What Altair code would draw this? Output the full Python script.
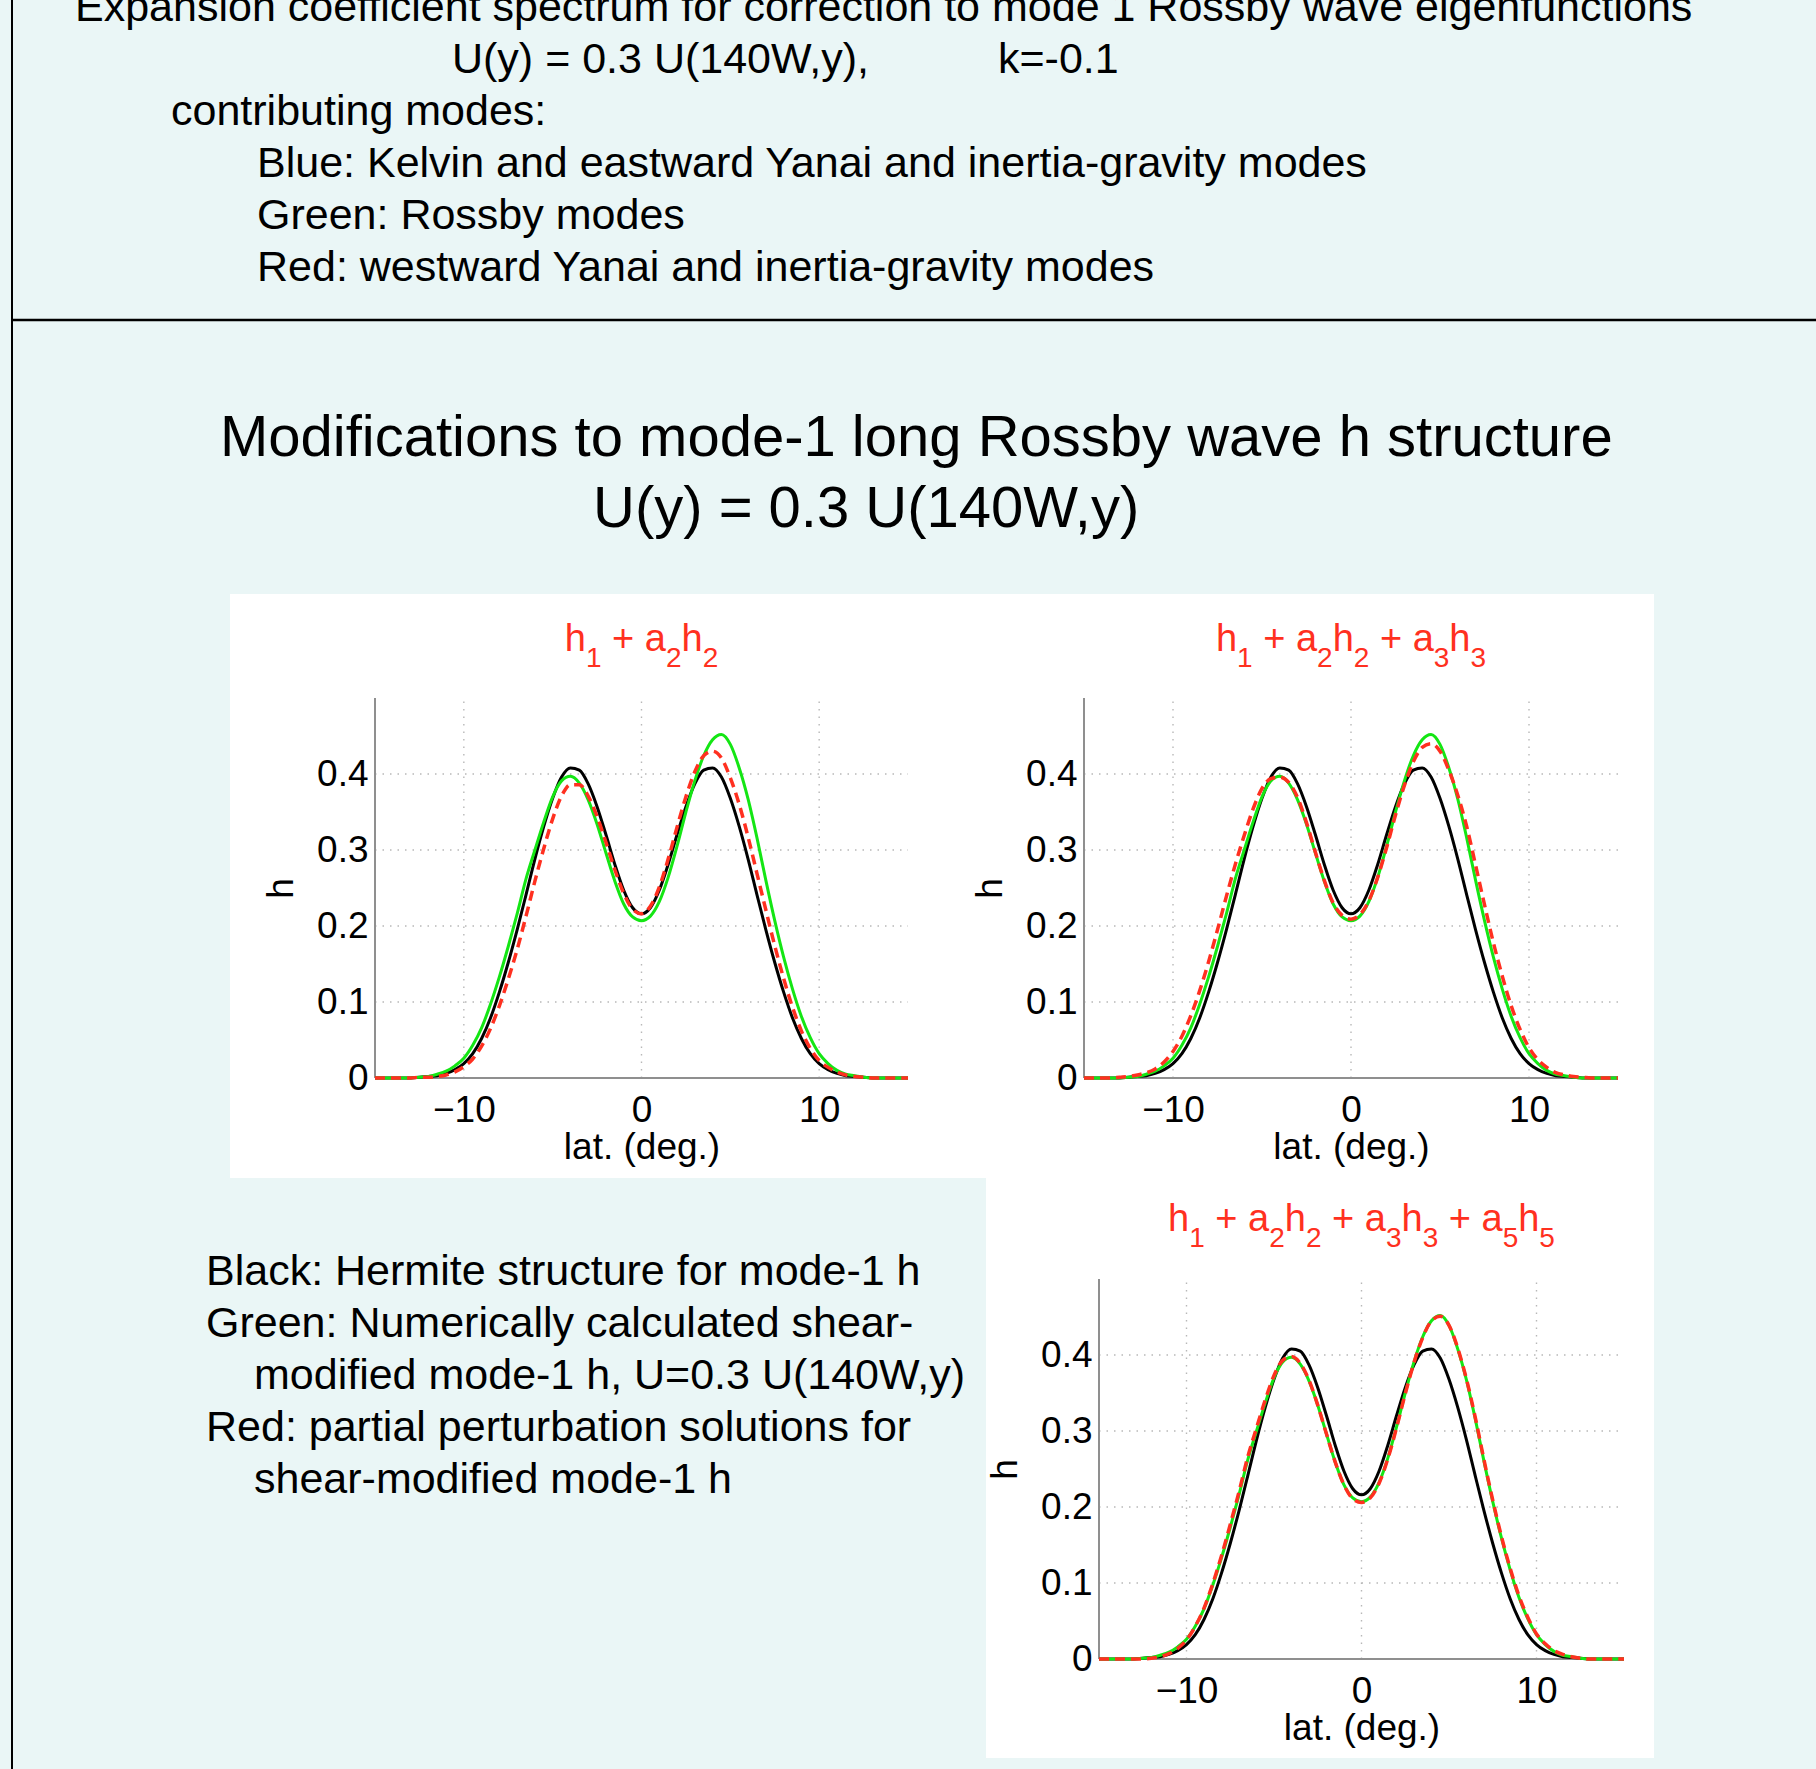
import altair as alt
import pandas as pd

# ---------------- data ----------------
LAT = [i / 2 for i in range(-30, 31)]  # latitude sample grid, -15 .. 15 deg

BLACK = [0, 0, 0, 0, 0, 0.001, 0.002, 0.003, 0.006, 0.011, 0.019, 0.032, 0.052, 0.079, 0.113,
         0.152, 0.195, 0.241, 0.288, 0.331, 0.368, 0.396, 0.408, 0.405, 0.387, 0.357, 0.320,
         0.281, 0.247, 0.224,
         0.216,
         0.224, 0.247, 0.281, 0.320, 0.357, 0.387, 0.405, 0.408, 0.396, 0.368, 0.331, 0.288,
         0.241, 0.195, 0.152, 0.113, 0.079, 0.052, 0.032, 0.019, 0.011, 0.006, 0.003, 0.002,
         0.001, 0, 0, 0, 0, 0]

GREEN = [0, 0, 0, 0, 0, 0.001, 0.002, 0.005, 0.009, 0.016, 0.026, 0.043, 0.066, 0.097, 0.133,
         0.173, 0.216, 0.262, 0.300, 0.337, 0.370, 0.391, 0.397, 0.388, 0.366, 0.334, 0.296,
         0.259, 0.229, 0.212,
         0.207,
         0.213, 0.232, 0.264, 0.305, 0.350, 0.391, 0.424, 0.445, 0.452, 0.439, 0.408, 0.367,
         0.316, 0.260, 0.207, 0.159, 0.117, 0.081, 0.053, 0.032, 0.019, 0.010, 0.005, 0.003,
         0.001, 0, 0, 0, 0, 0]

RED_1 = [0, 0, 0, 0, 0, 0.001, 0.001, 0.002, 0.004, 0.008, 0.015, 0.025, 0.042, 0.065, 0.095,
         0.130, 0.169, 0.213, 0.259, 0.302, 0.341, 0.371, 0.386, 0.386, 0.371, 0.344, 0.310,
         0.274, 0.243, 0.222,
         0.216,
         0.226, 0.251, 0.288, 0.330, 0.370, 0.403, 0.424, 0.430, 0.421, 0.395, 0.360, 0.317,
         0.269, 0.221, 0.174, 0.131, 0.093, 0.062, 0.039, 0.023, 0.014, 0.008, 0.004, 0.002,
         0.001, 0, 0, 0, 0, 0]

RED_2 = [0, 0, 0, 0, 0.001, 0.002, 0.004, 0.007, 0.012, 0.021, 0.035, 0.055, 0.082, 0.115, 0.153,
         0.195, 0.239, 0.281, 0.319, 0.354, 0.381, 0.394, 0.396, 0.389, 0.369, 0.336, 0.297,
         0.260, 0.230, 0.214,
         0.209,
         0.215, 0.233, 0.264, 0.303, 0.346, 0.385, 0.416, 0.435, 0.440, 0.430, 0.405, 0.372,
         0.331, 0.280, 0.228, 0.178, 0.134, 0.095, 0.064, 0.040, 0.024, 0.014, 0.007, 0.004,
         0.002, 0.001, 0, 0, 0, 0]

RED_3 = [0, 0, 0, 0, 0, 0, 0.001, 0.003, 0.007, 0.014, 0.025, 0.043, 0.067, 0.099, 0.136,
         0.177, 0.220, 0.266, 0.304, 0.341, 0.373, 0.393, 0.398, 0.389, 0.367, 0.334, 0.296,
         0.259, 0.229, 0.211,
         0.206,
         0.212, 0.231, 0.263, 0.304, 0.349, 0.390, 0.423, 0.445, 0.451, 0.439, 0.409, 0.368,
         0.318, 0.262, 0.209, 0.161, 0.119, 0.083, 0.055, 0.033, 0.020, 0.011, 0.006, 0.003,
         0.001, 0, 0, 0, 0, 0]

for arr in (BLACK, GREEN, RED_1, RED_2, RED_3):
    assert len(arr) == len(LAT)

X_TICKS = [-10, 0, 10]
Y_TICKS = [0, 0.1, 0.2, 0.3, 0.4]
GRID_X = [-10, 0, 10]
GRID_Y = [0.1, 0.2, 0.3, 0.4]

PANEL_TITLES = ["h_1 + a_2h_2", "h_1 + a_2h_2 + a_3h_3", "h_1 + a_2h_2 + a_3h_3 + a_5h_5"]

TOP_LINES = [
    "Expansion coefficient spectrum for correction to mode 1 Rossby wave eigenfunctions",
    "U(y) = 0.3 U(140W,y),",
    "k=-0.1",
    "contributing modes:",
    "Blue: Kelvin and eastward Yanai and inertia-gravity modes",
    "Green: Rossby modes",
    "Red: westward Yanai and inertia-gravity modes",
]
MAIN_TITLE = ["Modifications to mode-1 long Rossby wave h structure", "U(y) = 0.3 U(140W,y)"]
LEGEND_LINES = [
    "Black: Hermite structure for mode-1 h",
    "Green: Numerically calculated shear-",
    "modified mode-1 h, U=0.3 U(140W,y)",
    "Red: partial perturbation solutions for",
    "shear-modified mode-1 h",
]

# ---------------- styling / layout ----------------
W, H = 1816, 1769
BG = "#EAF6F6"
FONT = "Liberation Sans, Arial, Helvetica, sans-serif"
C_BLACK = "#000000"
C_GREEN = "#14E614"
C_RED = "#FF3020"
C_GRID = "#B8B8B8"
C_AXIS = "#8F8F8F"
BODY = 43


def txt(s, x, y, size, color="black", align="left"):
    return alt.Chart(pd.DataFrame({"t": [s]})).mark_text(
        font=FONT, fontSize=size, color=color, align=align, baseline="alphabetic"
    ).encode(text="t:N", x=alt.value(x), y=alt.value(y))


def rect(x0, y0, x1, y1, color):
    return alt.Chart(pd.DataFrame({"a": [0]})).mark_rect(color=color).encode(
        x=alt.value(x0), x2=alt.value(x1), y=alt.value(y0), y2=alt.value(y1)
    )


def hline(x0, x1, y, width, color="black"):
    return alt.Chart(pd.DataFrame({"a": [0]})).mark_rule(color=color, strokeWidth=width).encode(
        x=alt.value(x0), x2=alt.value(x1), y=alt.value(y)
    )


def vline(x, y0, y1, width, color="black"):
    return alt.Chart(pd.DataFrame({"a": [0]})).mark_rule(color=color, strokeWidth=width).encode(
        x=alt.value(x), y=alt.value(y0), y2=alt.value(y1)
    )


ADV = {"h": 0.556, "a": 0.556, "+": 0.584, " ": 0.278}
ADV.update({d: 0.556 for d in "0123456789"})


def formula_layers(formula, cx, base_y, main=38, sub=28, drop=16):
    runs = []
    i = 0
    while i < len(formula):
        if formula[i] == "_":
            runs.append([formula[i + 1], True])
            i += 2
        else:
            if runs and not runs[-1][1]:
                runs[-1][0] += formula[i]
            else:
                runs.append([formula[i], False])
            i += 1
    widths = [sum(ADV[c] for c in s) * (sub if is_sub else main) for s, is_sub in runs]
    x = cx - sum(widths) / 2
    out = []
    for (s, is_sub), w in zip(runs, widths):
        lead = len(s) - len(s.lstrip(" "))
        xs = x + sum(ADV[" "] for _ in range(lead)) * (sub if is_sub else main)
        out.append(txt(s.strip(" "), xs, base_y + (drop if is_sub else 0),
                       sub if is_sub else main, color=C_RED))
        x += w
    return out


def panel(red, x0, x1, y0, y1, title, title_y):
    xs = alt.Scale(domain=[-15, 15], range=[x0, x1], nice=False, zero=False)
    ys = alt.Scale(domain=[0, 0.5], range=[y1, y0], nice=False, zero=False)
    common = dict(domain=False, ticks=False, tickSize=0, grid=False, zindex=1,
                  labelFont=FONT, labelFontSize=37, labelColor="black",
                  titleFont=FONT, titleFontSize=37, titleFontWeight="normal",
                  titleColor="black", labelFlush=False)
    xax = alt.Axis(orient="bottom", offset=y1 - H, values=X_TICKS, title="lat. (deg.)",
                   labelPadding=14, titlePadding=1, **common)
    yax = alt.Axis(orient="left", offset=-x0, values=Y_TICKS, format=".1~f", title="h",
                   labelPadding=7, titlePadding=16, **common)

    def X(f):
        return alt.X(f, type="quantitative", scale=xs, axis=xax)

    def Y(f):
        return alt.Y(f, type="quantitative", scale=ys, axis=yax)

    gx = alt.Chart(pd.DataFrame({"g": GRID_X})).mark_rule(
        color=C_GRID, strokeWidth=1.4, strokeDash=[1.5, 6]
    ).encode(x=X("g"), y=alt.YDatum(0, scale=ys, axis=yax), y2=alt.Y2Datum(0.5))
    gy = alt.Chart(pd.DataFrame({"g": GRID_Y})).mark_rule(
        color=C_GRID, strokeWidth=1.4, strokeDash=[1.5, 6]
    ).encode(y=Y("g"), x=alt.XDatum(-15, scale=xs, axis=xax), x2=alt.X2Datum(15))
    ax_x = alt.Chart(pd.DataFrame({"a": [0]})).mark_rule(color=C_AXIS, strokeWidth=2).encode(
        x=alt.XDatum(-15, scale=xs, axis=xax), x2=alt.X2Datum(15),
        y=alt.YDatum(0, scale=ys, axis=yax))
    ax_y = alt.Chart(pd.DataFrame({"a": [0]})).mark_rule(color=C_AXIS, strokeWidth=2).encode(
        x=alt.XDatum(-15, scale=xs, axis=xax),
        y=alt.YDatum(0, scale=ys, axis=yax), y2=alt.Y2Datum(0.5))

    def curve(vals, color, width, dash=None):
        props = dict(color=color, strokeWidth=width, interpolate="monotone")
        if dash:
            props["strokeDash"] = dash
            props["strokeCap"] = "butt"
        return alt.Chart(pd.DataFrame({"lat": LAT, "h": vals})).mark_line(**props).encode(
            x=X("lat"), y=Y("h"))

    body = alt.layer(gx, gy, ax_x, ax_y,
                     curve(BLACK, C_BLACK, 3),
                     curve(GREEN, C_GREEN, 3),
                     curve(red, C_RED, 3.5, [10, 6]))
    return body, formula_layers(title, (x0 + x1) / 2, title_y)


layers = [
    rect(230, 594, 1654, 1178, "white"),
    rect(986, 1178, 1654, 1758, "white"),
    vline(12, 0, H, 2),
    hline(12, W, 320, 2.5),
    txt(TOP_LINES[0], 75, 21, BODY),
    txt(TOP_LINES[1], 452, 73, BODY),
    txt(TOP_LINES[2], 998, 73, BODY),
    txt(TOP_LINES[3], 171, 125, BODY),
    txt(TOP_LINES[4], 257, 177, BODY),
    txt(TOP_LINES[5], 257, 229, BODY),
    txt(TOP_LINES[6], 257, 281, BODY),
    txt(MAIN_TITLE[0], 220, 456, 58),
    txt(MAIN_TITLE[1], 593, 527, 58),
    txt(LEGEND_LINES[0], 206, 1285, BODY),
    txt(LEGEND_LINES[1], 206, 1337, BODY),
    txt(LEGEND_LINES[2], 254, 1389, BODY),
    txt(LEGEND_LINES[3], 206, 1441, BODY),
    txt(LEGEND_LINES[4], 254, 1493, BODY),
]

panel_specs = [
    (RED_1, 375, 908, 698, 1078, PANEL_TITLES[0], 651),
    (RED_2, 1084, 1618, 698, 1078, PANEL_TITLES[1], 651),
    (RED_3, 1099, 1624, 1279, 1659, PANEL_TITLES[2], 1231),
]
for spec in panel_specs:
    body, title_layers = panel(*spec)
    layers.append(body)
    layers.extend(title_layers)

chart = alt.layer(*layers).resolve_scale(
    x="independent", y="independent"
).resolve_axis(
    x="independent", y="independent"
).properties(
    width=W, height=H, background=BG, padding=0,
    autosize=alt.AutoSizeParams(type="none"),
).configure_view(strokeWidth=0)

chart.save("out.html", embed_options={"renderer": "svg", "actions": False})
